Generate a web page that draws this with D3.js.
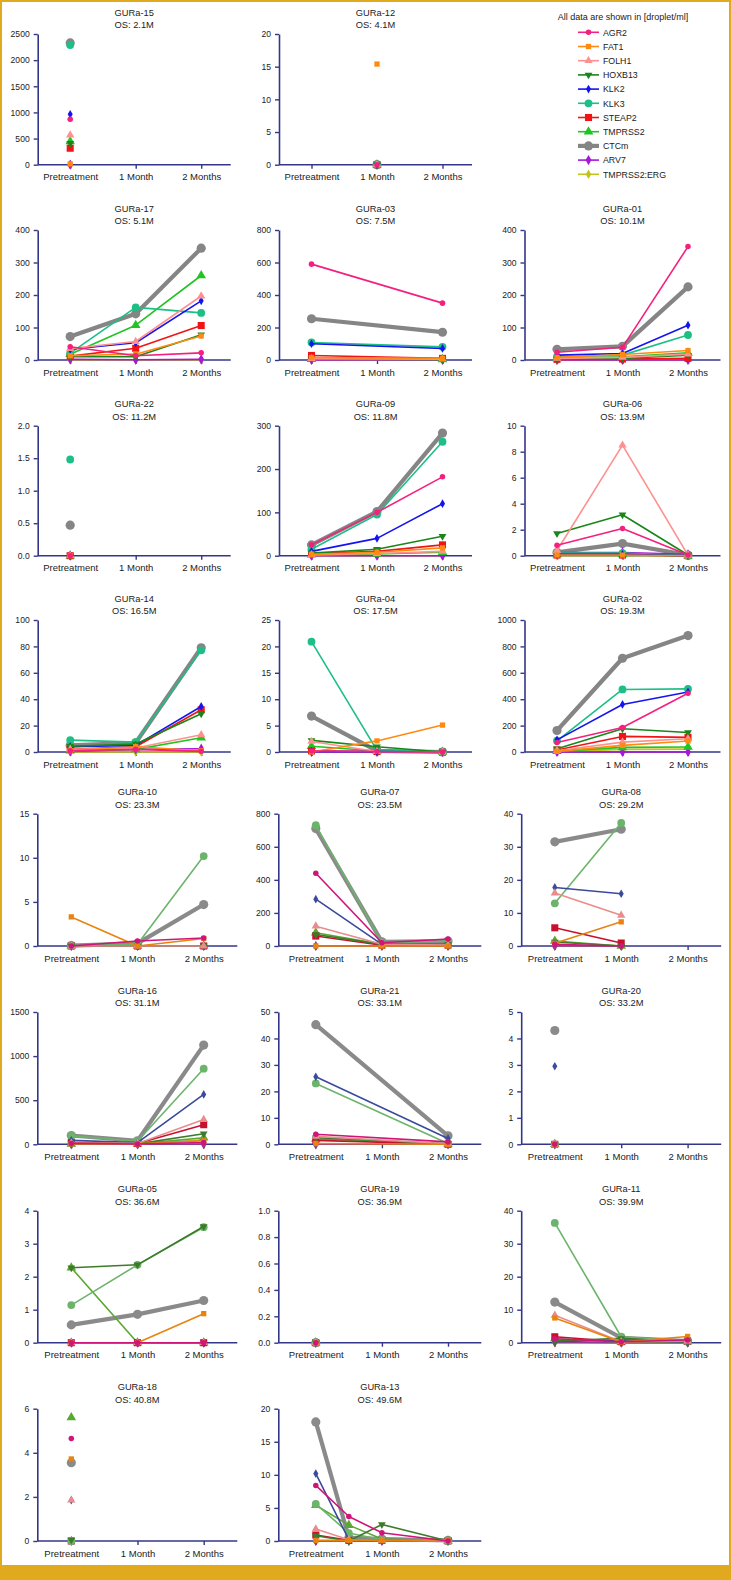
<!DOCTYPE html>
<html><head><meta charset="utf-8">
<script src="https://cdn.jsdelivr.net/npm/d3@7"></script>
<style>body{margin:0;background:#fff} svg{display:block} text{font-family:"Liberation Sans",Arial,sans-serif}</style>
</head><body><svg id="c" width="731" height="1580"></svg>
<script>
// ---------- DATA ----------
const genes = ["AGR2","FAT1","FOLH1","HOXB13","KLK2","KLK3","STEAP2","TMPRSS2","CTCm","ARV7","TMPRSS2:ERG"];
const timeLabels = ["Pretreatment","1 Month","2 Months"];
const timeValues = [0,1,2];
const timeValuesGURa13 = [0,0.5,1,2];
const patients = ["GURa-15","GURa-12","GURa-17","GURa-03","GURa-01","GURa-22","GURa-09","GURa-06","GURa-14","GURa-04","GURa-02","GURa-10","GURa-07","GURa-08","GURa-16","GURa-21","GURa-20","GURa-05","GURa-19","GURa-11","GURa-18","GURa-13"];
const overallSurvival = ["2.1M","4.1M","5.1M","7.5M","10.1M","11.2M","11.8M","13.9M","16.5M","17.5M","19.3M","23.3M","23.5M","29.2M","31.1M","33.1M","33.2M","36.6M","36.9M","39.9M","40.8M","49.6M"];
const yMaxima = [2500,20,400,800,400,2.0,300,10,100,25,1000,15,800,40,1500,50,5,4,1.0,40,6,20];
const yTickSteps = [500,5,100,200,100,0.5,100,2,20,5,200,5,200,10,500,10,1,1,0.2,10,2,5];
const legendTitle = "All data are shown in [droplet/ml]";

// rows in gene order; columns = time points (null = not measured)
const GURa15 = [[870,null,null],[15,null,null],[565,null,null],[410,null,null],[965,null,null],[2290,null,null],[315,null,null],[445,null,null],[2330,null,null],[0,null,null],[0,null,null]];
const GURa12 = [[null,0,null],[null,15.4,null],[null,0,null],[null,0,null],[null,0,null],[null,0,null],[null,0,null],[null,0,null],[null,0,null],[null,0,null],[null,0,null]];
const GURa17 = [[41,13,22],[13,18,74],[35,57,197],[10,10,78],[33,53,182],[21,162,145],[12,36,106],[18,107,260],[72,142,344],[2,1,2],[0,0,0]];
const GURa03 = [[590,null,350],[15,null,10],[8,null,5],[6,null,4],[100,null,71],[108,null,81],[28,null,10],[5,null,4],[254,null,171],[1,null,1],[0,null,0]];
const GURa01 = [[24,39,349],[8,17,29],[5,8,18],[3,5,15],[15,20,107],[10,15,77],[2,3,5],[5,10,22],[33,42,225],[0,0,0],[0,0,0]];
const GURa22 = [[0,null,null],[0,null,null],[0,null,null],[0,null,null],[0,null,null],[1.48,null,null],[0,null,null],[0,null,null],[0.47,null,null],[0,null,null],[0,null,null]];
const GURa09 = [[25,100,182],[3,8,18],[2,5,10],[6,15,45],[10,40,120],[15,95,263],[5,10,25],[2,4,8],[25,102,283],[0,0,0],[0,0,0]];
const GURa06 = [[0.8,2.1,0.05],[0.05,0.05,0],[0.4,8.5,0.05],[1.7,3.15,0.05],[0.1,0.1,0],[0.2,0.2,0],[0.05,0.05,0],[0.1,0.1,0],[0.25,0.93,0.05],[0.25,0.25,0.1],[0,0,0]];
const GURa14 = [[1,2,0.5],[1,4,1],[2,3,13],[4.4,6,29],[4,5,34.5],[9,7.5,77],[2,4,32],[1,2,10.8],[5,7,79],[0.5,2,2.5],[0,0,0]];
const GURa04 = [[0.2,0.1,0],[0,2.1,5.1],[2,0.1,0],[2.2,1,0],[0.1,0.1,0],[20.9,0.3,0],[0.2,0.1,0],[1.1,0.2,0],[6.8,0.2,0],[0,0,0],[0,0,0]];
const GURa02 = [[72,186,445],[5,50,83],[10,75,100],[25,176,148],[92,360,455],[85,474,478],[15,118,111],[5,35,38],[163,710,882],[0,0,0],[3,20,22]];
const GURa10 = [[0,0.57,0.9],[3.3,0,0.85],[0,0,0],[0,0,0],[0,0,0],[0,0.2,10.2],[0,0,0],[0,0,0],[0.05,0.3,4.7],[0,0,0],[0,0,0]];
const GURa07 = [[440,20,42],[0,0,0],[120,10,5],[70,10,10],[283,10,10],[730,20,30],[60,5,5],[80,10,10],[710,25,30],[0,0,0],[0,0,0]];
const GURa08 = [[0.5,0,null],[0.8,7.3,null],[16,9.3,null],[1.2,0,null],[17.7,15.8,null],[12.9,37.2,null],[5.5,0.9,null],[1.5,0,null],[31.5,35.3,null],[0,0,null],[0,0,null]];
const GURa16 = [[10,3,20],[5,5,40],[15,10,280],[10,5,120],[45,20,565],[95,35,857],[20,10,222],[5,5,75],[100,40,1125],[0,0,0],[3,3,50]];
const GURa21 = [[3.8,null,0.9],[0.3,null,0],[3,null,0.2],[2.5,null,0.2],[25.5,null,2.2],[23,null,0.3],[1.5,null,0],[2,null,0.1],[45.2,null,3.2],[0,null,0],[0,null,0]];
const GURa20 = [[0,null,null],[0,null,null],[0,null,null],[0,null,null],[2.95,null,null],[0,null,null],[0,null,null],[0,null,null],[4.3,null,null],[0,null,null],[0,null,null]];
const GURa05 = [[0,0,0],[0,0,0.88],[0,0,0],[2.27,2.36,3.52],[0,0,0],[1.14,2.36,3.5],[0,0,0],[2.27,0,0],[0.54,0.86,1.28],[0,0,0],[0,0,0]];
const GURa19 = [[0,null,null],[0,null,null],[0,null,null],[0,null,null],[0,null,null],[0,null,null],[0,null,null],[0,null,null],[0,null,null],[0,null,null],[0,null,null]];
const GURa11 = [[1.2,0.3,0.8],[7.5,0.2,1.9],[8.3,0.3,0.5],[0.5,1.3,0.2],[0.3,0.8,0.2],[36.3,1.8,0.5],[1.8,0.3,0.5],[1.2,0.2,0.3],[12.3,1.5,0.5],[0.2,0,0],[0,0,0]];
const GURa18 = [[4.65,null,null],[3.72,null,null],[1.85,null,null],[0.05,null,null],[1.85,null,null],[0,null,null],[0,null,null],[5.6,null,null],[3.55,null,null],[0,null,null],[0,null,null]];
const GURa13 = [[8.4,3.7,1.25,0],[0.1,0.1,0.1,0.2],[1.8,0.2,0.1,0],[0.8,0,2.5,0],[10.2,0.2,0.2,0],[5.6,1.2,0.2,0],[0.9,0.1,0.1,0],[5.4,2.4,0.3,0],[18,0.5,0.3,0.1],[0,0,0,0],[0,0,0,0]];
const panelValues = [GURa15,GURa12,GURa17,GURa03,GURa01,GURa22,GURa09,GURa06,GURa14,GURa04,GURa02,GURa10,GURa07,GURa08,GURa16,GURa21,GURa20,GURa05,GURa19,GURa11,GURa18,GURa13];

// ---------- STYLE / LAYOUT ----------
const brightColors = ["#F4207F","#FF8A12","#FF9090","#1A861A","#1414F0","#1DBF86","#F21414","#21C421","#858585","#A816DA","#C3C31C"];
const mutedColors  = ["#D0157A","#E8830F","#E98C8C","#3D7B2A","#3A4A9C","#6CB46C","#C8102E","#5AA832","#8A8A8A","#913A91","#B5B53A"];
const symbolTypes = [d3.symbolCircle,d3.symbolSquare,d3.symbolTriangle,d3.symbolTriangle,d3.symbolDiamond,d3.symbolCircle,d3.symbolSquare,d3.symbolTriangle,d3.symbolCircle,d3.symbolDiamond,d3.symbolDiamond];
const symbolSizes = [24,28,30,26,22,48,50,40,66,30,26];
const symbolRotate = [0,0,0,180,0,0,0,0,0,0,0];
const lineWidths = [1.6,1.6,1.6,1.6,1.6,1.6,1.6,1.6,4.2,1.6,1.6];
const drawOrder = [8,10,9,7,6,5,4,3,2,1,0];

const rowTop = [34,230,425.7,620,813.7,1012,1210.7,1408.7];
const rowBottom = [164.7,360,555.7,752,946,1144.3,1342.7,1541];
const colAxisUpper = [37.7,279,524.5];
const colAxisLower = [37.3,278.3,521.2];
const upperOffsets = [[32.5,163.5,193],[32.5,163.5,193],[32.5,163.5,196]];
const lowerOffsets = [[34,166.4,200],[37.5,169.7,203],[33.6,166.4,200]];
const axisColor = "#34368A";
const gold = "#E0A91E";

const svg = d3.select("#c");
svg.append("rect").attr("width",731).attr("height",1580).attr("fill","#fff");

function drawPanel(i){
  const slot = i < 2 ? i : i + 1;
  const row = Math.floor(slot/3), col = slot % 3;
  const lower = row >= 4;
  const ax = lower ? colAxisLower[col] : colAxisUpper[col];
  const off = lower ? lowerOffsets[col] : upperOffsets[col];
  const top = rowTop[row], bot = rowBottom[row];
  const colors = lower ? mutedColors : brightColors;
  const x = d3.scaleLinear().domain([0,2]).range([ax+off[0], ax+off[1]]);
  const y = d3.scaleLinear().domain([0,yMaxima[i]]).range([bot, top]);
  const g = svg.append("g");
  const step = yTickSteps[i];
  const ticks = d3.range(0, yMaxima[i] + step/2, step);
  const fmt = step < 1 ? d3.format(".1f") : d3.format("d");

  // y axis
  const ya = g.append("g").attr("transform",`translate(${ax},0)`)
    .call(d3.axisLeft(y).tickValues(ticks).tickFormat(fmt).tickSize(4).tickPadding(4).tickSizeOuter(0));
  ya.select(".domain").attr("stroke",axisColor).attr("stroke-width",1.6);
  ya.selectAll(".tick line").attr("stroke",axisColor).attr("stroke-width",1.4);
  ya.selectAll("text").attr("font-size",8.6).attr("fill","#222").attr("font-family","Liberation Sans, Arial, sans-serif");

  // x axis
  const xa = g.append("g").attr("transform",`translate(0,${bot})`)
    .call(d3.axisBottom(x).tickValues(timeValues).tickFormat((d,k)=>timeLabels[k]).tickSize(4).tickPadding(5).tickSizeOuter(0));
  xa.select(".domain").remove();
  xa.append("line").attr("x1",ax).attr("x2",ax+off[2]).attr("y1",0).attr("y2",0).attr("stroke",axisColor).attr("stroke-width",1.6);
  xa.selectAll(".tick line").attr("stroke",axisColor).attr("stroke-width",1.4);
  xa.selectAll("text").attr("font-size",9.5).attr("fill","#222").attr("font-family","Liberation Sans, Arial, sans-serif");

  // title
  const cx = ax + off[2]/2;
  g.append("text").attr("x",cx).attr("y",top-18.3).attr("text-anchor","middle").attr("font-size",9.3).attr("fill","#222").text(patients[i]);
  g.append("text").attr("x",cx).attr("y",top-6.2).attr("text-anchor","middle").attr("font-size",9.3).attr("fill","#222").text("OS: " + overallSurvival[i]);

  const times = patients[i] === "GURa-13" ? timeValuesGURa13 : timeValues;
  const vals = panelValues[i];
  const line = d3.line().x(d=>x(d.t)).y(d=>y(d.v));
  drawOrder.forEach(s=>{
    const pts = vals[s].map((v,k)=>({t:times[k],v:v})).filter(d=>d.v!==null);
    if(pts.length>1){
      g.append("path").attr("d",line(pts)).attr("fill","none").attr("stroke",colors[s])
        .attr("stroke-width",lineWidths[s]).attr("stroke-linejoin","round").attr("stroke-linecap","round");
    }
    pts.forEach(d=>{
      g.append("path").attr("d",d3.symbol().type(symbolTypes[s]).size(symbolSizes[s])())
        .attr("transform",`translate(${x(d.t)},${y(d.v)}) rotate(${symbolRotate[s]})`)
        .attr("fill",colors[s]);
    });
  });
}
patients.forEach((p,i)=>drawPanel(i));

// legend
const lg = svg.append("g");
lg.append("text").attr("x",623).attr("y",19.8).attr("text-anchor","middle").attr("font-size",9).attr("fill","#222").text(legendTitle);
genes.forEach((name,s)=>{
  const yy = 32.3 + s*14.2;
  lg.append("line").attr("x1",578).attr("x2",599).attr("y1",yy).attr("y2",yy).attr("stroke",brightColors[s]).attr("stroke-width",lineWidths[s]);
  lg.append("path").attr("d",d3.symbol().type(symbolTypes[s]).size(symbolSizes[s])())
    .attr("transform",`translate(588.5,${yy}) rotate(${symbolRotate[s]})`).attr("fill",brightColors[s]);
  lg.append("text").attr("x",603).attr("y",yy+3.2).attr("font-size",8.8).attr("fill","#222").text(name);
});

// gold frame
svg.append("rect").attr("x",0).attr("y",0).attr("width",731).attr("height",2).attr("fill",gold);
svg.append("rect").attr("x",0).attr("y",0).attr("width",2).attr("height",1580).attr("fill",gold);
svg.append("rect").attr("x",729).attr("y",0).attr("width",2).attr("height",1580).attr("fill",gold);
svg.append("rect").attr("x",0).attr("y",1565).attr("width",731).attr("height",15).attr("fill",gold);
</script></body></html>
